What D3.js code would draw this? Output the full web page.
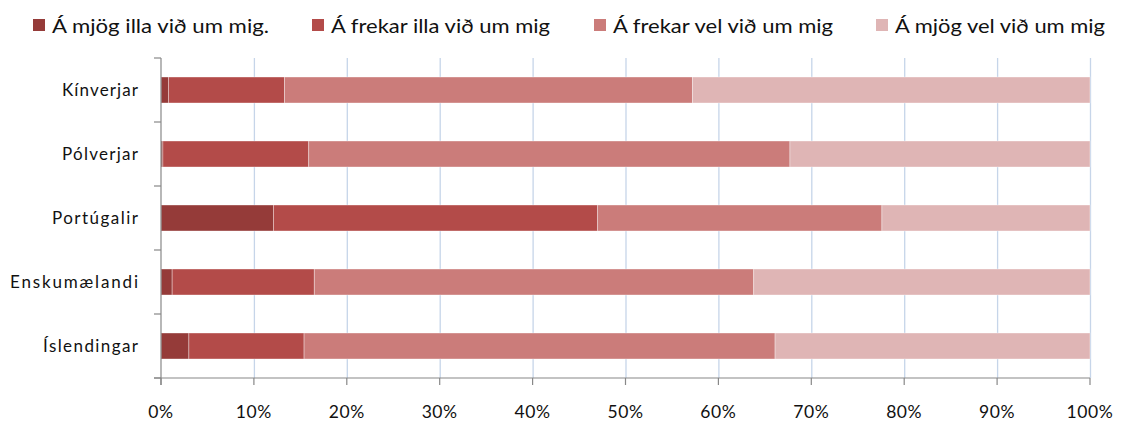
<!DOCTYPE html>
<html><head><meta charset="utf-8">
<script src="https://cdn.jsdelivr.net/npm/d3@7"></script>
<style>body{margin:0;background:#fff}svg{display:block}text{font-family:Lato,"Open Sans",sans-serif;fill:#111}</style>
</head><body><svg id="c" width="1124" height="426"></svg>
<script>
const categories = ["Kínverjar","Pólverjar","Portúgalir","Enskumælandi","Íslendingar"];
const seriesNames = ["Á mjög illa við um mig.","Á frekar illa við um mig","Á frekar vel við um mig","Á mjög vel við um mig"];
const mjogIlla   = [0.8, 0.2, 12.1, 1.2, 3.0];
const frekarIlla = [12.5, 15.7, 34.9, 15.3, 12.4];
const frekarVel  = [43.9, 51.8, 30.6, 47.3, 50.7];
const mjogVel    = [42.8, 32.3, 22.4, 36.2, 33.9];
const tickValues = [0,10,20,30,40,50,60,70,80,90,100];
const colors = ["#953B39","#B34B49","#CB7C7A","#DFB5B5"];

const svg = d3.select("#c");
const pL=161, pR=1090, pT=58, pB=378;
const x = d3.scaleLinear().domain([0,100]).range([pL,pR]);
const y = d3.scaleBand().domain(categories).range([pT,pB]).paddingInner(0.594).paddingOuter(0.297);

// gridlines
svg.append("g").selectAll("line").data(tickValues.slice(1)).join("line")
  .attr("x1",d=>x(d)+0.5).attr("x2",d=>x(d)+0.5).attr("y1",pT).attr("y2",pB)
  .attr("stroke","#C6D5E9").attr("stroke-width",1.3);

const data = categories.map((c,i)=>({cat:c, s0:mjogIlla[i], s1:frekarIlla[i], s2:frekarVel[i], s3:mjogVel[i]}));
const stack = d3.stack().keys(["s0","s1","s2","s3"])(data);
svg.append("g").selectAll("g").data(stack).join("g").attr("fill",(d,i)=>colors[i])
  .selectAll("rect").data(d=>d).join("rect")
  .attr("x",d=>x(d[0])).attr("width",d=>x(d[1])-x(d[0]))
  .attr("y",d=>y(d.data.cat)).attr("height",y.bandwidth())
  .attr("stroke","#ffffff").attr("stroke-opacity",0.45).attr("stroke-width",0.8);

// axes
const ax = svg.append("g").attr("stroke","#888").attr("stroke-width",1.2);
ax.append("line").attr("x1",pL).attr("x2",pL).attr("y1",pT).attr("y2",pB+7);
ax.append("line").attr("x1",pL-7).attr("x2",pR).attr("y1",pB).attr("y2",pB);
ax.selectAll(".xt").data(tickValues).join("line").attr("class","xt")
  .attr("x1",d=>x(d)).attr("x2",d=>x(d)).attr("y1",pB).attr("y2",pB+7);
const bounds = categories.map(c=>y(c)-y.step()*y.paddingInner()/2);
bounds.push(pB);
ax.selectAll(".yt").data(bounds).join("line").attr("class","yt")
  .attr("x1",pL-7).attr("x2",pL).attr("y1",d=>d).attr("y2",d=>d);

svg.append("g").selectAll("text").data(tickValues).join("text")
  .attr("x",d=>x(d)).attr("y",418).attr("text-anchor","middle")
  .attr("font-size",17.5).attr("letter-spacing",0.6).text(d=>d+"%");
const yLabW = [76,76,86,128,95];
svg.append("g").selectAll("text").data(categories).join("text")
  .attr("x",(d,i)=>138-yLabW[i]).attr("y",d=>y(d)+y.bandwidth()/2+6)
  .attr("font-size",17).attr("textLength",(d,i)=>yLabW[i]).attr("lengthAdjust","spacing").text(d=>d);

// legend
const legX = [33,312,594,876];
const legW = [217,219,220,210];
const lg = svg.append("g").selectAll("g").data(seriesNames).join("g");
lg.append("rect").attr("x",(d,i)=>legX[i]).attr("y",19).attr("width",12).attr("height",12).attr("fill",(d,i)=>colors[i]);
lg.append("text").attr("x",(d,i)=>legX[i]+19).attr("y",33).attr("font-size",20)
  .attr("textLength",(d,i)=>legW[i]).attr("lengthAdjust","spacingAndGlyphs").text(d=>d);
</script></body></html>
